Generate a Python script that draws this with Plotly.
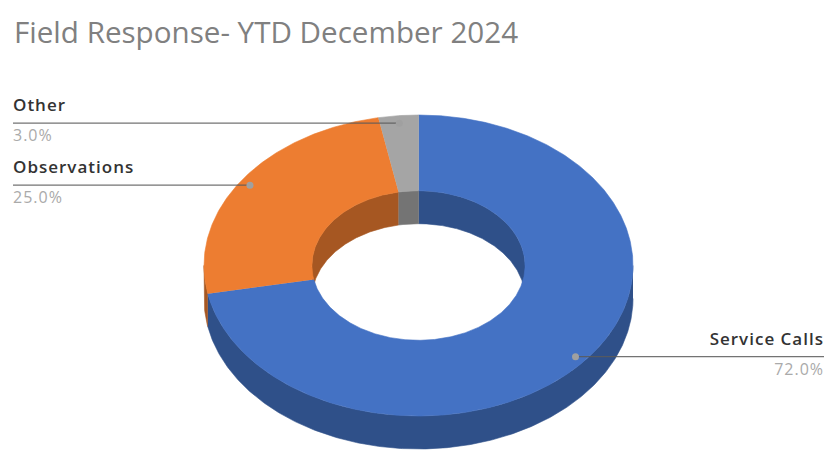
import numpy as np
import plotly.graph_objects as go

categories = ["Service Calls", "Observations", "Other"]
values = [72.0, 25.0, 3.0]
colors = ["#4472C4", "#ED7D31", "#A5A5A5"]
dark_colors = ["#2F5089", "#A65722", "#747474"]
title_text = "Field Response- YTD December 2024"

CX, CY, RX, RY = 418.5, 265.5, 214.5, 150.5
IN = 0.497
DEPTH = 33
FONT = "Open Sans"
W, H = 833, 455

fig = go.Figure()


def arc(t0, t1, r, dy=0.0):
    n = max(2, int(abs(t1 - t0) * 2) + 2)
    t = np.radians(np.linspace(t0, t1, n))
    return CX + RX * r * np.sin(t), CY - RY * r * np.cos(t) + dy


def poly(xs, ys, color):
    fig.add_trace(go.Scatter(x=np.concatenate(xs), y=np.concatenate(ys), mode="lines",
                             fill="toself", fillcolor=color, hoverinfo="skip",
                             line=dict(color=color, width=0.6)))


total = sum(values)
edges = np.concatenate([[0], np.cumsum(values)]) / total * 360

# outer wall (front half only) and inner wall (back half only)
for i in range(len(values)):
    a, b = edges[i], edges[i + 1]
    lo, hi = max(a, 90), min(b, 270)
    if lo < hi:
        x1, y1 = arc(lo, hi, 1)
        x2, y2 = arc(hi, lo, 1, DEPTH)
        poly([x1, x2], [y1, y2], dark_colors[i])
    for lo, hi in ((a, min(b, 90)), (max(a, 270), b)):
        if lo < hi:
            x1, y1 = arc(lo, hi, IN)
            x2, y2 = arc(hi, lo, IN, DEPTH)
            poly([x1, x2], [y1, y2], dark_colors[i])

# top surface
for i in range(len(values)):
    a, b = edges[i], edges[i + 1]
    x1, y1 = arc(a, b, 1)
    x2, y2 = arc(b, a, IN)
    poly([x1, x2], [y1, y2], colors[i])

# leader lines and labels
for i, (cat, val) in enumerate(zip(categories, values)):
    mid = (edges[i] + edges[i + 1]) / 2
    t = np.radians(mid)
    dx = CX + RX * 0.95 * np.sin(t)
    dy = CY - RY * 0.95 * np.cos(t)
    right = np.sin(t) > 0
    end = 824 if right else 13
    fig.add_trace(go.Scatter(x=[dx, end], y=[dy, dy], mode="lines", hoverinfo="skip",
                             line=dict(color="rgba(90,90,90,0.85)", width=1.2)))
    fig.add_trace(go.Scatter(x=[dx], y=[dy], mode="markers", hoverinfo="skip",
                             marker=dict(color="#A0A0A0", size=7)))
    pos = "middle left" if right else "middle right"
    fig.add_trace(go.Scatter(x=[end], y=[dy - 16], mode="text", text=[cat], textposition=pos,
                             hoverinfo="skip", cliponaxis=False,
                             textfont=dict(family=FONT, size=17, color="#333333", weight=600)))
    fig.add_trace(go.Scatter(x=[end], y=[dy + 14], mode="text", text=[f"{val:.1f}%"], textposition=pos,
                             hoverinfo="skip", cliponaxis=False,
                             textfont=dict(family=FONT, size=16, color="#AAAAAA")))

fig.add_annotation(x=12, y=31, text=title_text, showarrow=False, xanchor="left", yanchor="middle",
                   font=dict(family=FONT, size=29.6, color="#808080"))

fig.update_layout(width=W, height=H, margin=dict(l=0, r=0, t=0, b=0), showlegend=False,
                  paper_bgcolor="white", plot_bgcolor="white",
                  xaxis=dict(range=[0, W], visible=False, fixedrange=True),
                  yaxis=dict(range=[H, 0], visible=False, fixedrange=True))

css = ("var s=document.createElement('style');"
       "s.textContent='.textpoint text{letter-spacing:1px}';"
       "document.head.appendChild(s);"
       "document.body.style.margin='0';document.body.style.overflow='hidden';")
fig.write_html("out.html", config={"displayModeBar": False}, post_script=css)
